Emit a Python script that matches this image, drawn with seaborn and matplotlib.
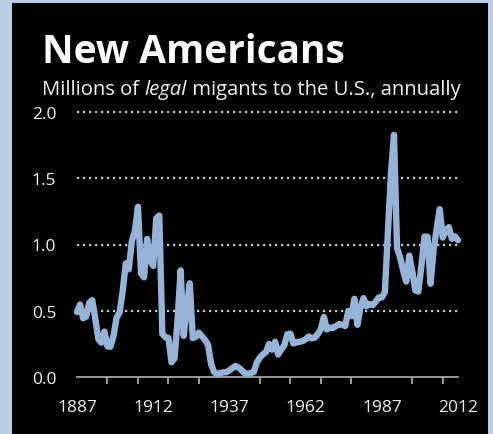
import numpy as np
import pandas as pd
import matplotlib
matplotlib.use("Agg")
import matplotlib.pyplot as plt
import seaborn as sns
from matplotlib.patches import Rectangle
from matplotlib.ticker import FixedLocator

# donnees : immigrants legaux (millions) par an
years = list(range(1887, 2013))
migrants = [
    0.490, 0.547, 0.444, 0.455, 0.560, 0.580, 0.440, 0.286, 0.259, 0.343,  # 1887-1896
    0.231, 0.229, 0.312, 0.449, 0.488, 0.649, 0.857, 0.813, 1.026, 1.101,  # 1897-1906
    1.285, 0.783, 0.752, 1.042, 0.879, 0.838, 1.198, 1.218, 0.327, 0.299,  # 1907-1916
    0.295, 0.111, 0.141, 0.430, 0.805, 0.310, 0.523, 0.707, 0.294, 0.304,  # 1917-1926
    0.335, 0.307, 0.280, 0.242, 0.097, 0.036, 0.023, 0.029, 0.035, 0.036,  # 1927-1936
    0.050, 0.068, 0.083, 0.071, 0.052, 0.029, 0.024, 0.029, 0.038, 0.109,  # 1937-1946
    0.147, 0.171, 0.188, 0.249, 0.206, 0.266, 0.170, 0.208, 0.238, 0.322,  # 1947-1956
    0.327, 0.253, 0.261, 0.265, 0.271, 0.284, 0.306, 0.292, 0.297, 0.323,  # 1957-1966
    0.362, 0.454, 0.359, 0.373, 0.370, 0.385, 0.399, 0.394, 0.385, 0.499,  # 1967-1976
    0.459, 0.590, 0.394, 0.524, 0.595, 0.534, 0.550, 0.542, 0.568, 0.600,  # 1977-1986
    0.600, 0.641, 1.089, 1.536, 1.827, 0.973, 0.904, 0.804, 0.720, 0.916,  # 1987-1996
    0.798, 0.653, 0.645, 0.841, 1.059, 1.059, 0.704, 0.958, 1.122, 1.266,  # 1997-2006
    1.052, 1.107, 1.131, 1.043, 1.062, 1.032,                              # 2007-2012
]
label_years = [1887, 1912, 1937, 1962, 1987, 2012]
y_ticks = [0.0, 0.5, 1.0, 1.5, 2.0]

title = "New Americans"
sub_parts = [("Millions of ", "normal"), ("legal", "italic"), (" migants to the U.S., annually", "normal")]

df = pd.DataFrame({"year": years, "migrants": migrants})

sns.set_style("dark")
plt.rcParams["font.family"] = ["Open Sans", "DejaVu Sans"]

W, H = 493, 435
fig = plt.figure(figsize=(W / 100, H / 100), dpi=100)
fig.patch.set_facecolor("#B9CDE5")
fig.patches.append(Rectangle((12 / W, 0), 476 / W, (H - 4) / H, transform=fig.transFigure,
                             facecolor="black", edgecolor="none", zorder=-5))

ax = fig.add_axes([77 / W, (H - 378) / H, (458 - 77) / W, (378 - 113) / H])
ax.set_facecolor("black")

# grille pointillee
for v in y_ticks[1:]:
    ax.axhline(v, color="#C8C8C8", lw=1.6, linestyle=(0, (1, 1.7)), zorder=1, clip_on=False)

sns.lineplot(data=df, x="year", y="migrants", ax=ax, color="#95B3D7", lw=4.6,
             clip_on=False, zorder=3)

ax.set_xlim(1887, 2012)
ax.set_ylim(0, 2.0)
ax.grid(False)
for s in ["top", "right", "left"]:
    ax.spines[s].set_visible(False)
ax.spines["bottom"].set_color("#A6A6A6")
ax.spines["bottom"].set_linewidth(1.3)

ax.xaxis.set_major_locator(FixedLocator(label_years))
ax.xaxis.set_minor_locator(FixedLocator(list(range(1887, 2012, 10))))
ax.set_xticklabels([str(y) for y in label_years])
ax.tick_params(axis="x", which="major", length=0, pad=16, labelsize=12.5, colors="#F2F2F2")
ax.tick_params(axis="x", which="minor", length=5, width=1.3, color="#A6A6A6", direction="out", bottom=True)
ax.set_yticks(y_ticks)
ax.set_yticklabels([f"{v:.1f}" for v in y_ticks])
ax.tick_params(axis="y", length=0, pad=15, labelsize=12.5, colors="#F2F2F2")
ax.set_xlabel("")
ax.set_ylabel("")

# titre et sous-titre
fig.text(42 / W, 1 - 63 / H, title, color="white", fontsize=28, fontweight="bold",
         ha="left", va="baseline")

renderer = fig.canvas.get_renderer()
x = 42
for txt, style in sub_parts:
    t = fig.text(x / W, 1 - 95 / H, txt, color="#F2F2F2", fontsize=14.6, fontstyle=style,
                 ha="left", va="baseline")
    x += t.get_window_extent(renderer).width

fig.savefig("out.png", dpi=100, facecolor=fig.get_facecolor())
